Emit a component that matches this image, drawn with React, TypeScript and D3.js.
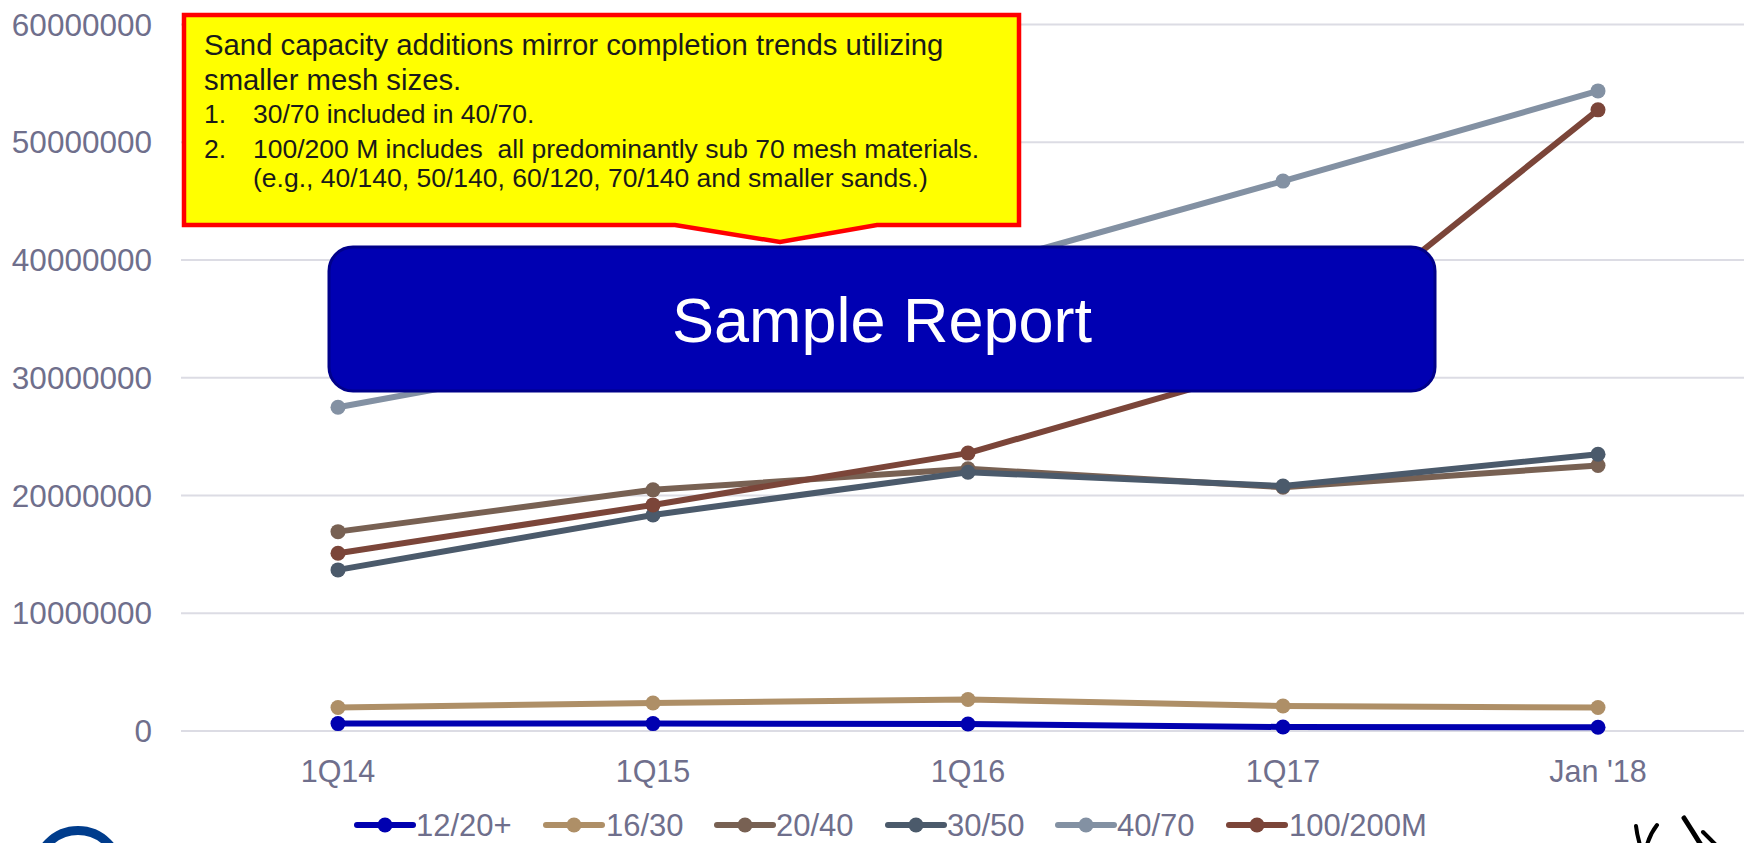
import React, { useEffect } from 'react';
import * as d3 from 'd3';

// ---- data ----
const categories = ['1Q14', '1Q15', '1Q16', '1Q17', "Jan '18"];
const seriesNames = ['12/20+', '16/30', '20/40', '30/50', '40/70', '100/200M'];
const mesh1220 = [630000, 630000, 600000, 340000, 320000];
const mesh1630 = [1990000, 2380000, 2670000, 2120000, 1990000];
const mesh2040 = [16930000, 20480000, 22270000, 20700000, 22550000];
const mesh3050 = [13680000, 18350000, 21980000, 20800000, 23500000];
const mesh4070 = [27500000, 32400000, 39200000, 46700000, 54360000];
const mesh100200 = [15100000, 19200000, 23600000, 31300000, 52750000];
const seriesColors = ['#0000b0', '#ae8f67', '#786153', '#4b5a6b', '#8391a3', '#7b4539'];
const yTicks = [0, 10000000, 20000000, 30000000, 40000000, 50000000, 60000000];
const calloutHead = ['Sand capacity additions mirror completion trends utilizing', 'smaller mesh sizes.'];
const calloutItems = [
  { num: '1.', text: '30/70 included in 40/70.' },
  { num: '2.', text: '100/200 M includes\u00a0 all predominantly sub 70 mesh materials.' },
  { num: '', text: '(e.g., 40/140, 50/140, 60/120, 70/140 and smaller sands.)' },
];
const stampText = 'Sample Report';

const W = 1744;
const H = 843;
const FONT = '"Liberation Sans", Arial, Helvetica, sans-serif';
const AXIS_COLOR = '#6f6f8c';

export default function App() {
  useEffect(() => {
    document.body.style.margin = '0';
  }, []);

  const series = [mesh1220, mesh1630, mesh2040, mesh3050, mesh4070, mesh100200];

  const x = d3.scaleBand<string>().domain(categories).range([180.5, 1755.5]).padding(0);
  const y = d3.scaleLinear().domain([0, 60000000]).range([731, 24.5]);
  const cx = (c: string) => (x(c) as number) + x.bandwidth() / 2;

  const line = d3
    .line<number>()
    .x((_, i) => cx(categories[i]))
    .y((d) => y(d));

  // legend layout
  const legendItems = [
    { sym: 357, txt: 416 },
    { sym: 546, txt: 606 },
    { sym: 717, txt: 776 },
    { sym: 888, txt: 947 },
    { sym: 1058, txt: 1117 },
    { sym: 1229, txt: 1289 },
  ];
  const legendY = 825;

  // callout shape
  const cl = 184, cr = 1019, ct = 15, cb = 225;
  const calloutPath = `M${cl},${ct} L${cr},${ct} L${cr},${cb} L877,${cb} L780,242 L675,${cb} L${cl},${cb} Z`;

  return (
    <svg
      width={W}
      height={H}
      viewBox={`0 0 ${W} ${H}`}
      style={{ display: 'block', position: 'absolute', left: 0, top: 0, background: '#ffffff' }}
    >
      <rect x={0} y={0} width={W} height={H} fill="#ffffff" />
      {/* gridlines */}
      {yTicks.map((t) => (
        <line key={'g' + t} x1={181} x2={W} y1={y(t)} y2={y(t)} stroke="#dcdce4" strokeWidth={2} />
      ))}
      {/* y labels */}
      {yTicks.map((t) => (
        <text
          key={'yl' + t}
          x={152}
          y={y(t) + 11}
          textAnchor="end"
          fontFamily={FONT}
          fontSize={31.5}
          fill={AXIS_COLOR}
        >
          {String(t)}
        </text>
      ))}
      {/* x labels */}
      {categories.map((c) => (
        <text
          key={'xl' + c}
          x={cx(c)}
          y={782}
          textAnchor="middle"
          fontFamily={FONT}
          fontSize={30.5}
          fill={AXIS_COLOR}
        >
          {c}
        </text>
      ))}
      {/* series */}
      {series.map((s, si) => (
        <g key={'s' + si}>
          <path
            d={line(s) || ''}
            fill="none"
            stroke={seriesColors[si]}
            strokeWidth={6}
            strokeLinejoin="round"
            strokeLinecap="round"
          />
          {s.map((v, i) => (
            <circle key={i} cx={cx(categories[i])} cy={y(v)} r={7.5} fill={seriesColors[si]} />
          ))}
        </g>
      ))}
      {/* legend */}
      {seriesNames.map((n, i) => (
        <g key={'lg' + n}>
          <line
            x1={legendItems[i].sym}
            x2={legendItems[i].sym + 56}
            y1={legendY}
            y2={legendY}
            stroke={seriesColors[i]}
            strokeWidth={6}
            strokeLinecap="round"
          />
          <circle cx={legendItems[i].sym + 28} cy={legendY} r={7.5} fill={seriesColors[i]} />
          <text
            x={legendItems[i].txt}
            y={legendY + 10.5}
            fontFamily={FONT}
            fontSize={31}
            fill={AXIS_COLOR}
          >
            {n}
          </text>
        </g>
      ))}
      {/* callout */}
      <path d={calloutPath} fill="#ffff00" stroke="#ff0000" strokeWidth={4.5} strokeLinejoin="miter" />
      <text x={204} y={55} fontFamily={FONT} fontSize={29.3} fill="#1a1a1a">
        {calloutHead[0]}
      </text>
      <text x={204} y={90} fontFamily={FONT} fontSize={29.3} fill="#1a1a1a">
        {calloutHead[1]}
      </text>
      {calloutItems.map((it, i) => {
        const by = [122.5, 157.5, 187][i];
        return (
          <g key={'ci' + i}>
            {it.num && (
              <text x={204} y={by} fontFamily={FONT} fontSize={26.5} fill="#1a1a1a">
                {it.num}
              </text>
            )}
            <text x={253} y={by} fontFamily={FONT} fontSize={26.5} fill="#1a1a1a">
              {it.text}
            </text>
          </g>
        );
      })}
      {/* sample report stamp */}
      <rect x={329} y={247} width={1106} height={144} rx={24} ry={24} fill="#0000b2" stroke="#00008a" strokeWidth={3} />
      <text x={882} y={342} textAnchor="middle" fontFamily={FONT} fontSize={63} fill="#ffffff">
        {stampText}
      </text>
      {/* bottom-left logo fragment */}
      <circle cx={78} cy={872} r={41.5} fill="none" stroke="#003c8c" strokeWidth={9} />
      {/* bottom-right marks */}
      <g fill="none" stroke="#000000" strokeLinecap="round">
        <path d="M1636,826 Q1637,835 1640,845" strokeWidth={4} />
        <path d="M1657,825 Q1650,834 1647,845" strokeWidth={4} />
        <path d="M1684,818 Q1693,832 1701,845" strokeWidth={5} />
        <path d="M1703,832 Q1709,838 1716,845" strokeWidth={4} />
      </g>
    </svg>
  );
}
